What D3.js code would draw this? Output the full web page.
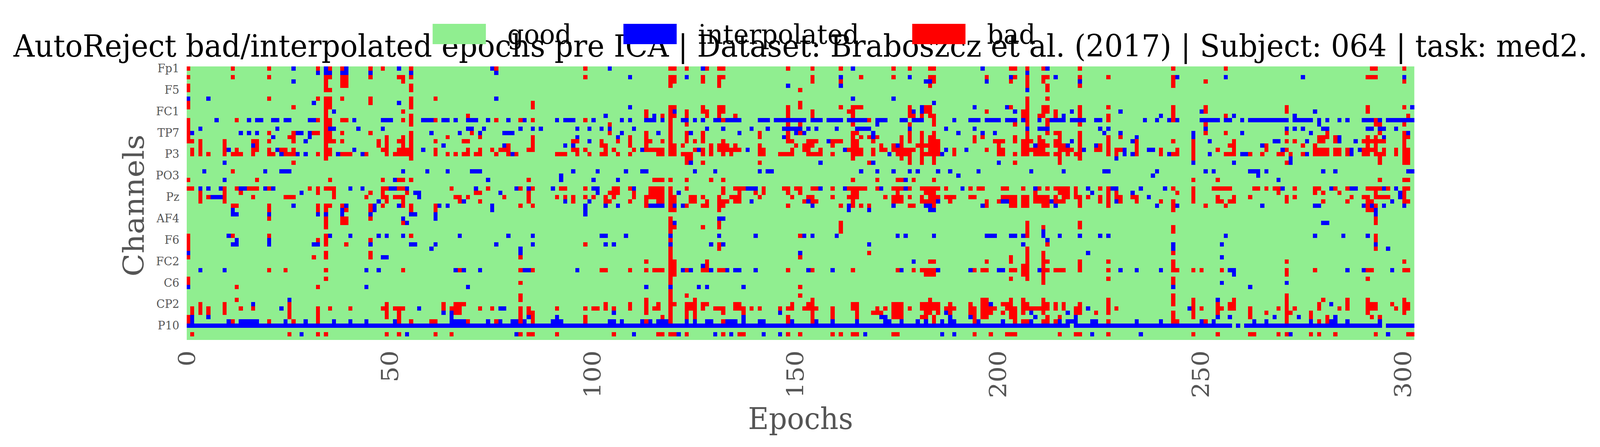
<!DOCTYPE html>
<html>
<head>
<meta charset="utf-8">
<script src="https://cdn.jsdelivr.net/npm/d3@7"></script>
<style>
  html, body { margin: 0; padding: 0; background: #fff; }
  svg { display: block; width: 100vw; height: 100vh; }
  text { font-family: "DejaVu Serif", serif; }
</style>
</head>
<body>
<svg id="chart"></svg>
<script>
const titleText = "AutoReject bad/interpolated epochs pre ICA | Dataset: Braboszcz et al. (2017) | Subject: 064 | task: med2.";

const channels = ["Fp1","AF7","AF3","F1","F3","F5","F7","FT7","FC5","FC3","FC1","C1","C3","C5","T7","TP7",
  "CP5","CP3","CP1","P1","P3","P5","P7","P9","PO7","PO3","O1","Iz","Oz","POz","Pz","CPz",
  "Fpz","Fp2","AF8","AF4","AFz","Fz","F2","F4","F6","F8","FT8","FC6","FC4","FC2","FCz","Cz",
  "C2","C4","C6","T8","TP8","CP6","CP4","CP2","P2","P4","P6","P8","P10","PO8","PO4","O2"];
const channelTicks = ["Fp1","F5","FC1","TP7","P3","PO3","Pz","AF4","F6","FC2","C6","CP2","P10"];
const epochTicks = [0, 50, 100, 150, 200, 250, 300];
const nEpochs = 303;

const legendLabels = ["good", "interpolated", "bad"];
const legendColors = ["#90ee90", "#0000ff", "#ff0000"];

// epochs per channel ("a-b" is a run of epochs)
const badEpochs = [
  "0 11 20 32 35 38 45 48 55 76 98 119-120 123 128 131-132 148 154 161 174 178 183-184 203-204 207 211 220 243 256 292-293 300",
  "",
  "0 11 20 34-35 38-39 45 52-53 55 98 119-120 127 131-132 154 166 174 183-184 197 204 207 211-212 220 227 243 291-293",
  "34 38-39 53 119-120 127 131 154 161 184 203 207 211 243 251 300",
  "0 34 38-39 55 119 131 183 207 212 220 243",
  "0 34-35 55 151 212",
  "",
  "20 32 34-35 38 45 55 61 207 212",
  "0 34-35 45 55 85 151 207",
  "0 26 34-35 55 85 119-120 127 131-132 148 151 161 164-166 178 182-183 203 207 211-212 220 227 243 251 271 291 300",
  "34 53 113 119 123 127-128 131-132 148 154 163-164 178 182-183 197 206-207 211-212 214 220 243 251 271 291",
  "34 55 69 113 117 119-120 123 128 131 135 148 154 164 178-179 181 183-184 206-207 210-211 214 220 227 243 256 301",
  "0 12 32 34-35 38-39 53 55 61 76 82 85 98 119 132 168 184 207 212 227 243 293",
  "0 34-35 55 104 119 123 148 151 164 178 184 204 207 212 220 251 293-294 300",
  "0 34 119",
  "0 20 26 31-32 34-35 38 45 55 70 104 113 119 123 127 141 148 151 164-165 178 181 184 207 212 214-215 220 251 256 271 281 294 300",
  "0 25-26 34-35 49 53 55 64 72 85 109 113 119 123 127 141 148 164 166 168 170 176 178 181 183-184 194 196 204 207 210 215 220 227 230 279-281 283 291 293 300-301",
  "0-1 3 9 16-17 20 26 34-36 38 47 49 52-53 55 61 68-69 85 95-96 102 106 109 113-114 117 119 123 125 127 132 148-149 153-155 159-161 164-165 169 176 178 181 183-185 194 199-201 204 206-208 210-211 214-215 220 227 234 243 248 258 271 273 279-280 283 290-295 300",
  "3 9 17 34 47 49 53 55 79 85 102-103 109 113 119-120 122 129 131-133 135 141 150 152-154 159 164-165 171 174 176 180-185 200 206-207 210-212 214-216 220 225 227 234 248 257-258 266 275 278 291 293 300",
  "1 3 9 12 16-17 20 23-24 26 34-35 48-49 52-55 61 69 72 75 77-79 84-85 95-96 98 103 105 110 113-117 119-120 125 127 129 131-136 141-142 149 152-153 156 163-166 169 171-172 174-179 181 183-185 189 197 200-201 206-211 215-218 220 224-225 227 229-230 234 240 244 248 254 258 266 271 278-281 283-284 286 290-293 295 298 300-301",
  "1 3 5 9 11-13 16 20-21 24-26 32 34-35 38-40 44 49 51-55 61 64 66 68-69 71-72 76 79 81 91-93 96 99 102-103 106 109 116-117 119-120 122-124 127 129 132 134 141-142 146-149 153-156 159 164-166 169 175-178 181-185 189 200-201 204 206-207 209-212 214-215 217 219-220 227 229 234 240 243-244 248 256-258 262 265 269-270 272 275 278-281 283-284 286 290-291 293-295 298 300-301",
  "34 55 123-124 164 176 178 181 184 215 220 248 294 300-301",
  "26 123 127 141 168 178 181 184 204 215 271 294 300-301",
  "",
  "11",
  "",
  "0 17 35 48 52-53 55 84 115-117 119 123 129 132 164 170 175-176 179 184 248 254 294 300-301",
  "",
  "0-1 9 12 15-17 20 30 32 34-36 48-49 52-53 65 74 82 85 92-93 98 105-106 109 114-117 119 123 132 135-137 142 147-148 150-151 154-155 159 163-167 170 174-176 178 181-185 187 193 195-196 201-202 206 210 212 214-217 219 225 227 243 248 253-257 263-264 266 268-269 273 278-279 283 286 291-294 296 300-301",
  "3 9 13 32 36 45 48 54 71-72 84 104-106 110 114-117 119 132 136 140 142 148 151 164-165 175 182-184 209 215-217 219 227 229 244 248 269 278 280 284 293 300",
  "3 5 9 16 24-26 36 44 48-49 51-53 66-67 69 78 84 91 93 95 98 100 103 105 110 113-117 119-120 124-125 127 131 134-136 141 149 153-154 159 163-165 172 174-176 178 181 183-185 187-189 193-194 201-204 206-207 209-212 214 216-217 219-220 222 225 227 229-230 233-234 248 254 258 262 271 273 287 290-291 293-296 300",
  "3 9 49 53 67 72 84 95 103-104 109 113 116-117 119-120 124-125 128 131-133 135-136 152 154-155 164 174-176 181-184 188 197 200 203-204 206-207 209-212 214-216 220 225 227 230 234 240 243 248 254-255 257-258 271 280 286 291-292 300-301",
  "11-12 20 32 34-35 38 45 48 53 55 61 82 85 113 119 123 127-128 131-132 148 161 164 166 168 178-179 184 197 203-204 206-207 211-212 220 227 243 251 256 291 293",
  "20 32 34 39 45 55 61 119-120 131 243 291-292",
  "",
  "20 34 38-39 45 119 293",
  "34 38-39 53 119 131 161 207 220 293",
  "34 119-120 127 131 161 207 211 220 243",
  "119 161 207 243",
  "0 11 20 34 55 151 207 293",
  "0 32 34 45 119 293",
  "0 34 39 98 131 212",
  "0 119 131 207 293",
  "34 45 119 168 207 211 243",
  "0 31 34 45 82 119 151 203 207 211",
  "113 119-120 128 183-184 197 203 207 211-212 220 227 243 271 300",
  "119-120 128 206-207 211 220 243",
  "20 24 34 53 67 82 85 102-103 109 113 115-117 119-120 123 127-128 131-132 148 154 164 175 179 181-184 194 196-197 203-204 206-207 211-212 214-216 220 227 243-244 248 250 255 271 278 291-292 300-301",
  "119-120 182-184 206-207 211 271",
  "0 34 119 203 207 211 227 243 291",
  "0 82 119 211 243",
  "12 32 151",
  "119",
  "82 119 123 151 243 271",
  "12 82 113 119 125 154 183 196-197 203 206 211 227 243 248 258 271 280 286 291 300",
  "3 9 25 49 63 66-68 103 109 113 116 119-120 123-125 127-128 135-136 149 153-154 164-165 174-176 181-185 188 193 196-197 201-203 206-207 211-212 214 216 220 227 243 248 254 257-258 271 279 286 291-293 297 300-301",
  "1 3 5 9 13 16 25 32 35 40 48-49 51-53 63 65-67 72 75 82 84 91 98 100-101 103 105 109 113 115-116 119 123-125 127 130-132 135-137 139 141 146 148-149 152-155 159 164-165 170 172 174-176 178 181-185 187-189 193-194 196-199 202-204 206-212 214 216 219-220 227 229 248 250 254-255 257-258 262 269 271 273 279 284 286 291-293 298 300-301",
  "1 3 5 9 25 32 49 52 66-67 82 84-85 113 119 123 125 132 137 154 159 165 169-171 174-176 182-183 185 188 193-194 196-198 201 203-204 206 211 219-220 224 227 243 248 254 262 266 271-272 277 291 300",
  "0 25 32 49 52 82 85 98 117 119 123 125 148 154 159 165 174-176 181-182 184 194 196-197 203-204 212 215 243 248 262 271 277 281 292 294",
  "0 11 20 26 32 52 55 60-61 69 76 82 85 98 113 119 132 148 154 184 194 204 206-207 211-212 214 227 243-244 251 271 279 281",
  "",
  "",
  "1 25 32 34 49 52 61 65 82 84-85 91 105 116-117 119-120 123 132 136-137 148 151 159 161 164-165 174-175 194 198 202-204 215 219-220 227 248 254 262-263 269 271 277 279 283 293 301-302",
  ""
];

const interpEpochs = [
  "26 34 39 52 75 104 127 164 196 212",
  "32 34-35 38-39 45 55 76 207",
  "109 123 161 178 203 214 244 256 275 300",
  "26 182-183 197 220",
  "148 161",
  "207",
  "",
  "0 5 76 164 174",
  "31 52 184",
  "109 181 194 202 302",
  "36 120 179 181 204 218 230 250 278",
  "103 115 216 240 258 273",
  "7 15 17-18 21-22 24-25 30-31 41 48-50 58-60 63-64 66 69-71 74 79 83 91 93-95 100 107 109 113-115 117 122-123 125 127 130-131 133-136 141-143 145-152 154-156 158-161 163-167 170-172 176-177 179-181 189 193-195 197-200 202-204 206 210 213-216 218-221 224-225 236 239 242 244 250-254 256-257 260 262-271 273-277 279 281 284 286 290-292 294 296-302",
  "170 279",
  "3 22 35-36 42 48 69-70 73 82 85 87 96 99 102 104 110 128 132 139 143 147-151 153 155 160 165-168 178 187 194 207 210-212 225 227 251 271 273 275 280-281 291-292 294-295 298",
  "1 13 15 17 27-28 30 60 67 72 78-80 107 116 124 136 150 152 169 190 196 199 226 230 248 260 277 301",
  "21 30 96 106 147 169 234 248 284 295",
  "29 99 158 218 233 252 268-269 276 284 288",
  "16 63 78 93 95 175 209 217 224 265",
  "10 22 41 58 112 126 138 162 187 192 221 231 237-238 270 287 289",
  "23 27 29 37 43 80 173 186 231 233 242 252 260-261 276 287",
  "229 272",
  "9 124 156 169 200 248 258 272",
  "",
  "4 19 23-25 53 59 64 70-72 95 101 108 112-113 125 130 141 143-144 166 170 174 178 180 185 188 195 208 216 226-227 239 251 253 262-264 266 280 283 301-302",
  "92 190 238 264",
  "9 51 74 92 100 106 177 269",
  "",
  "3 5 8 13-14 19 21 40 43 50-51 54 71 81 84 90 100-101 110 138-140 156 162 171 177 191 209 222 228-229 235 241 270 282 287-288 295 298",
  "28 56-57 77 101 121 223 233 299",
  "6-8 57 237 299",
  "47 68 93 99 139 153 185 201-202 213 229 297",
  "26 39 46 52 62 64 75 98 103 106 114-117 120 122 154 163 174 182-183 196 214 239 244 265 278-279 290 292 295 300",
  "11 38 46 75 98 163 168 183-184 293",
  "11-12 20 32 34 38 45 55-56 61 98 293",
  "53 61 131-132",
  "54 120 280-281",
  "",
  "211",
  "10 35 40 47 49 53 67 79 85 102-103 108 119 131 140 152 154 160 175 177 184 197-199 203-204 206 211 215 220 225 227 256 278 285 291",
  "12 20 212",
  "11-12 20 31-32 45 55-56 61 76 85 103 105 119 129 132 168 206 243 255 293",
  "60 82 243 296",
  "0 82 151 222",
  "48-49 255",
  "179",
  "127",
  "3 9 44 47 66 68 72 83-84 96 122 124 129 133 135-136 140 153 159 176 185 193 200-201 210 230 234 240 257-258 286 290 297",
  "258",
  "",
  "255 271",
  "0 44 69 113 119 126 128 137 243 262",
  "",
  "",
  "25 254",
  "16 198 282",
  "23 57 77-78 222 247",
  "63 65 105 146 187 208 217",
  "1 5 65 84 91 137 171-172 188 193 209 219 254 257 268 274 283",
  "1 10 13-17 24 29 36 40 44 51 65-68 74 77 80-81 83 90-92 104-105 107 112 114 116-118 123 125 128-129 133-135 137 141-142 149 155 159 165 172-173 176 180 182 186 188-189 195 201 208 215 217-219 223-224 234 240 250 253 263 266 277 282-283 286 294",
  "0-217 219-257 259 261-294 296-302",
  "",
  "28 54 81 110 121 130 134 142 146 167 186 189 223 235 272 296",
  ""
];

const svgWidth = 4327;
const svgHeight = 1144;

// The window can come out narrower than asked, so fit the whole drawing into it
const svg = d3.select("#chart")
  .attr("viewBox", [0, 0, svgWidth, svgHeight])
  .attr("preserveAspectRatio", "none");

// Plot area; the first and last cells get cut by it like in the original
const plot = { left: 505, right: 3825, top: 170, bottom: 870 };

const x = d3.scaleLinear().domain([0, nEpochs]).range([503.4, plot.right]);
const y = d3.scaleBand().domain(channels).range([plot.top, plot.top + 10.97 * channels.length]);
const color = d3.scaleOrdinal().domain(legendLabels).range(legendColors);

function parseRuns(str) {
  const out = [];
  str.split(" ").filter(Boolean).forEach(tok => {
    const [a, b] = tok.split("-").map(Number);
    for (let e = a; e <= (b === undefined ? a : b); e++) out.push(e);
  });
  return out;
}

const cells = [];
channels.forEach((ch, i) => {
  parseRuns(interpEpochs[i]).forEach(e => cells.push({ channel: ch, epoch: e, state: "interpolated" }));
  parseRuns(badEpochs[i]).forEach(e => cells.push({ channel: ch, epoch: e, state: "bad" }));
});

svg.append("clipPath").attr("id", "plot-clip")
  .append("rect")
  .attr("x", plot.left)
  .attr("y", plot.top)
  .attr("width", plot.right - plot.left)
  .attr("height", plot.bottom - plot.top);

// Title goes under the legend, they overlap in the original too
svg.append("text")
  .attr("x", 2165)
  .attr("y", 145)
  .attr("text-anchor", "middle")
  .attr("font-size", 79)
  .attr("fill", "#000")
  .text(titleText);

const heat = svg.append("g").attr("clip-path", "url(#plot-clip)");

heat.append("rect")
  .attr("x", plot.left)
  .attr("y", plot.top)
  .attr("width", plot.right - plot.left)
  .attr("height", plot.bottom - plot.top)
  .attr("fill", color("good"));

heat.selectAll("rect.cell")
  .data(cells)
  .join("rect")
  .attr("class", "cell")
  .attr("x", d => x(d.epoch))
  .attr("y", d => y(d.channel))
  .attr("width", x(1) - x(0))
  .attr("height", y.bandwidth())
  .attr("fill", d => color(d.state))
  .attr("shape-rendering", "crispEdges");

// Axes
const xTicks = x.copy().range(x.range().map(v => v + 1.6));
const xAxis = svg.append("g")
  .attr("transform", `translate(0,${plot.bottom})`)
  .call(d3.axisBottom(xTicks).tickValues(epochTicks).tickFormat(d3.format("d")).tickSize(0));
xAxis.select(".domain").remove();
xAxis.selectAll("text")
  .attr("font-family", "DejaVu Serif")
  .attr("font-size", 64)
  .attr("fill", "#555555")
  .attr("text-anchor", "end")
  .attr("transform", "rotate(-90)")
  .attr("x", -27)
  .attr("y", 0)
  .attr("dy", "0.36em");

const yAxis = svg.append("g")
  .attr("transform", "translate(485,0)")
  .call(d3.axisLeft(y).tickValues(channelTicks).tickSize(0).tickPadding(0));
yAxis.select(".domain").remove();
yAxis.selectAll("text")
  .attr("font-family", "DejaVu Serif")
  .attr("font-size", 30)
  .attr("fill", "#555555");

svg.append("text")
  .attr("x", 2165)
  .attr("y", 1098)
  .attr("text-anchor", "middle")
  .attr("font-size", 77)
  .attr("fill", "#555555")
  .text("Epochs");

svg.append("text")
  .attr("transform", "translate(389,526) rotate(-90)")
  .attr("text-anchor", "middle")
  .attr("font-size", 77)
  .attr("fill", "#555555")
  .text("Channels");

// Legend
const legendX = [1170, 1686, 2467];
const legend = svg.append("g")
  .selectAll("g")
  .data(legendLabels)
  .join("g")
  .attr("transform", (d, i) => `translate(${legendX[i]},61)`);

legend.append("rect")
  .attr("width", 144)
  .attr("height", 52)
  .attr("fill", d => color(d));

legend.append("text")
  .attr("x", 202)
  .attr("y", 51)
  .attr("font-size", 70)
  .attr("fill", "#000")
  .text(d => d);
</script>
</body>
</html>
